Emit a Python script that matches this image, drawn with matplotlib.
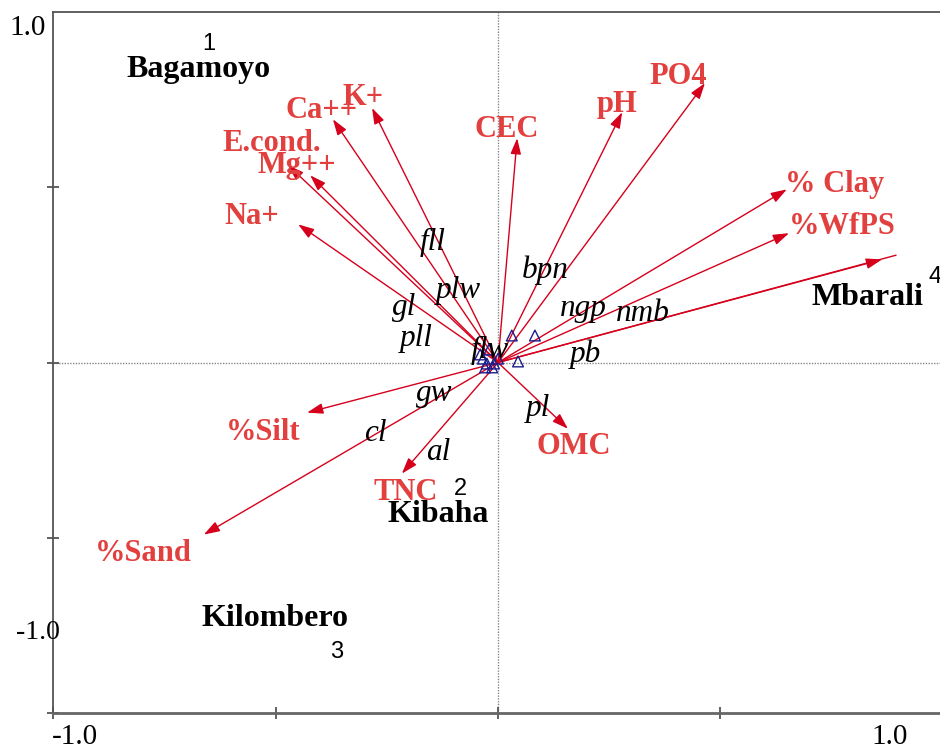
import numpy as np
import matplotlib
matplotlib.use("Agg")
import matplotlib.pyplot as plt

# environmental variables (arrows)
env_names = ["Ca++", "K+", "E.cond.", "Mg++", "Na+", "CEC", "pH", "PO4",
             "% Clay", "%WfPS", "", "%Silt", "%Sand", "TNC", "OMC"]
env_x = [-0.371, -0.283, -0.472, -0.422, -0.449, 0.043, 0.279, 0.465,
         0.649, 0.654, 0.863, -0.429, -0.661, -0.216, 0.157]
env_y = [0.694, 0.726, 0.563, 0.534, 0.394, 0.640, 0.714, 0.797,
         0.494, 0.369, 0.294, -0.143, -0.491, -0.317, -0.189]
env_lab_x = [-0.396, -0.303, -0.508, -0.452, -0.553, 0.020, 0.267, 0.404,
             0.757, 0.773, 0.0, -0.528, -0.796, -0.207, 0.171]
env_lab_y = [0.720, 0.757, 0.626, 0.563, 0.417, 0.666, 0.737, 0.817,
             0.509, 0.389, 0.0, -0.200, -0.546, -0.371, -0.240]
# the unlabelled arrow runs a little past its head
tail_end = (0.894, 0.306)

# species scores (labels)
sp_names = ["fll", "plw", "gl", "pll", "bpn", "ngp", "nmb", "pb",
            "gw", "cl", "al", "pl", "flw"]
sp_x = [-0.146, -0.090, -0.211, -0.184, 0.106, 0.191, 0.326, 0.196,
        -0.144, -0.276, -0.135, 0.090, -0.018]
sp_y = [0.343, 0.206, 0.157, 0.069, 0.263, 0.154, 0.140, 0.023,
        -0.089, -0.203, -0.257, -0.131, 0.034]

# species points (triangles near origin)
tri_x = [0.031, 0.083, 0.045, -0.040, -0.034, -0.025, -0.009, -0.029, -0.013, 0.000, -0.020]
tri_y = [0.077, 0.077, 0.003, 0.023, 0.011, -0.003, -0.003, -0.014, -0.014, 0.011, 0.037]

# sites
site_num = ["1", "2", "3", "4"]
site_num_x = [-0.649, -0.085, -0.362, 0.982]
site_num_y = [0.909, -0.360, -0.826, 0.243]
site_names = ["Bagamoyo", "Kibaha", "Kilombero", "Mbarali"]
site_x = [-0.674, -0.135, -0.501, 0.831]
site_y = [0.837, -0.434, -0.729, 0.186]

arrow_col = "#d6001c"
lab_col = "#e2403f"
serif = "Liberation Serif"

fig = plt.figure(figsize=(9.4, 7.51), dpi=100)
ax = fig.add_axes([53 / 940, 38 / 751, 890 / 940, 701 / 751])
ax.set_xlim(-1, 1)
ax.set_ylim(-1, 1)

ax.axhline(0, color="#888888", lw=1, ls=(0, (1, 1)), zorder=1)
ax.axvline(0, color="#888888", lw=1, ls=(0, (1, 1)), zorder=1)

for s in ["top", "left"]:
    ax.spines[s].set_color("#555555")
    ax.spines[s].set_linewidth(1.3)
ax.spines["bottom"].set_color("#666666")
ax.spines["bottom"].set_linewidth(2)
ax.spines["right"].set_visible(False)

ax.set_xticks([-1, -0.5, 0, 0.5])
ax.set_yticks([-1, -0.5, 0, 0.5])
ax.set_xticklabels([])
ax.set_yticklabels([])
ax.tick_params(direction="inout", length=8, width=1.3, color="#555555")

# odd CANOCO style axis labels
ax.text(-1.056, 0.954, "1.0", fontsize=21, family=serif, ha="center", va="center", clip_on=False)
ax.text(-1.034, -0.771, "-1.0", fontsize=20, family=serif, ha="center", va="center", clip_on=False)
ax.text(-0.951, -1.068, "-1.0", fontsize=21, family=serif, ha="center", va="center", clip_on=False)
ax.text(0.881, -1.068, "1.0", fontsize=21, family=serif, ha="center", va="center", clip_on=False)

# arrows
ax.plot([0, tail_end[0]], [0, tail_end[1]], color=arrow_col, lw=1, zorder=2)
for name, x, y, lx, ly in zip(env_names, env_x, env_y, env_lab_x, env_lab_y):
    ax.annotate("", xy=(x, y), xytext=(0, 0),
                arrowprops=dict(arrowstyle="-|>,head_length=0.6,head_width=0.2",
                                mutation_scale=16, color=arrow_col, lw=1,
                                shrinkA=0, shrinkB=0), zorder=2)
    if name:
        ax.text(lx, ly, name, color=lab_col, fontsize=22, fontweight="bold",
                family=serif, ha="center", va="center", zorder=4)

ax.scatter(tri_x, tri_y, marker="^", s=60, facecolors="none",
           edgecolors="#1c1c8a", linewidths=1, zorder=3)

for name, x, y in zip(sp_names, sp_x, sp_y):
    ax.text(x, y, name, fontsize=22.5, style="italic", family=serif,
            ha="center", va="center", zorder=4)

for name, x, y in zip(site_num, site_num_x, site_num_y):
    ax.text(x, y, name, fontsize=17, family="Liberation Sans",
            ha="center", va="center", zorder=4)
for name, x, y in zip(site_names, site_x, site_y):
    ax.text(x, y, name, fontsize=23, fontweight="bold", family=serif,
            ha="center", va="center", zorder=4)

plt.savefig("out.png", dpi=100)
